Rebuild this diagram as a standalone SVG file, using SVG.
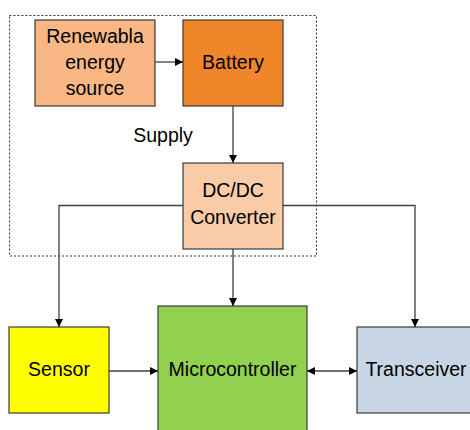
<svg xmlns="http://www.w3.org/2000/svg" width="470" height="430" viewBox="0 0 470 430">
<style>
.box{stroke:#3a3a3a;stroke-width:1.2}
.t{font-family:"Liberation Sans",Arial,sans-serif;font-size:19.5px;fill:#000;text-anchor:middle}
.c{fill:none;stroke:#404040;stroke-width:1.3}
</style>
<defs>
<marker id="ah" viewBox="0 0 10 10" refX="10" refY="5" markerWidth="8" markerHeight="8" markerUnits="userSpaceOnUse" orient="auto-start-reverse">
<path d="M0,0 L10,5 L0,10 z" fill="#000"/>
</marker>
</defs>
<rect width="470" height="430" fill="#fff"/>
<g id="supply-group">
<rect x="9.5" y="15.5" width="307" height="240.5" fill="none" stroke="#333" stroke-width="1" stroke-dasharray="2,2"/>
<text class="t" x="163" y="142">Supply</text>
</g>
<g id="renewable">
<rect class="box" x="35" y="20" width="120" height="86" fill="#F8B784"/>
<text class="t" x="95" y="43">Renewabla</text>
<text class="t" x="95" y="69">energy</text>
<text class="t" x="95" y="95">source</text>
</g>
<g id="battery">
<rect class="box" x="183" y="20" width="100" height="86" fill="#F0862A"/>
<text class="t" x="233" y="69">Battery</text>
</g>
<g id="dcdc">
<rect class="box" x="183" y="163" width="100" height="86" fill="#F9CBA7"/>
<text class="t" x="233" y="197">DC/DC</text>
<text class="t" x="233" y="224">Converter</text>
</g>
<g id="sensor">
<rect class="box" x="9" y="327" width="100" height="86" fill="#FFFF00"/>
<text class="t" x="59" y="376">Sensor</text>
</g>
<g id="microcontroller">
<rect class="box" x="158" y="306" width="149" height="130" fill="#92D050"/>
<text class="t" x="232.5" y="376">Microcontroller</text>
</g>
<g id="transceiver">
<rect class="box" x="357" y="327" width="120" height="86" fill="#C8D5E5"/>
<text class="t" x="416" y="376">Transceiver</text>
</g>
<g id="connectors">
<path class="c" d="M155,62 H183" marker-end="url(#ah)"/>
<path class="c" d="M233,106 V163" marker-end="url(#ah)"/>
<path class="c" d="M183,205.5 H59 V327" marker-end="url(#ah)"/>
<path class="c" d="M283,205.5 H415 V327" marker-end="url(#ah)"/>
<path class="c" d="M233,249 V306" marker-end="url(#ah)"/>
<path class="c" d="M109,371 H158" marker-end="url(#ah)"/>
<path class="c" d="M307,371 H357" marker-start="url(#ah)" marker-end="url(#ah)"/>
</g>
</svg>
